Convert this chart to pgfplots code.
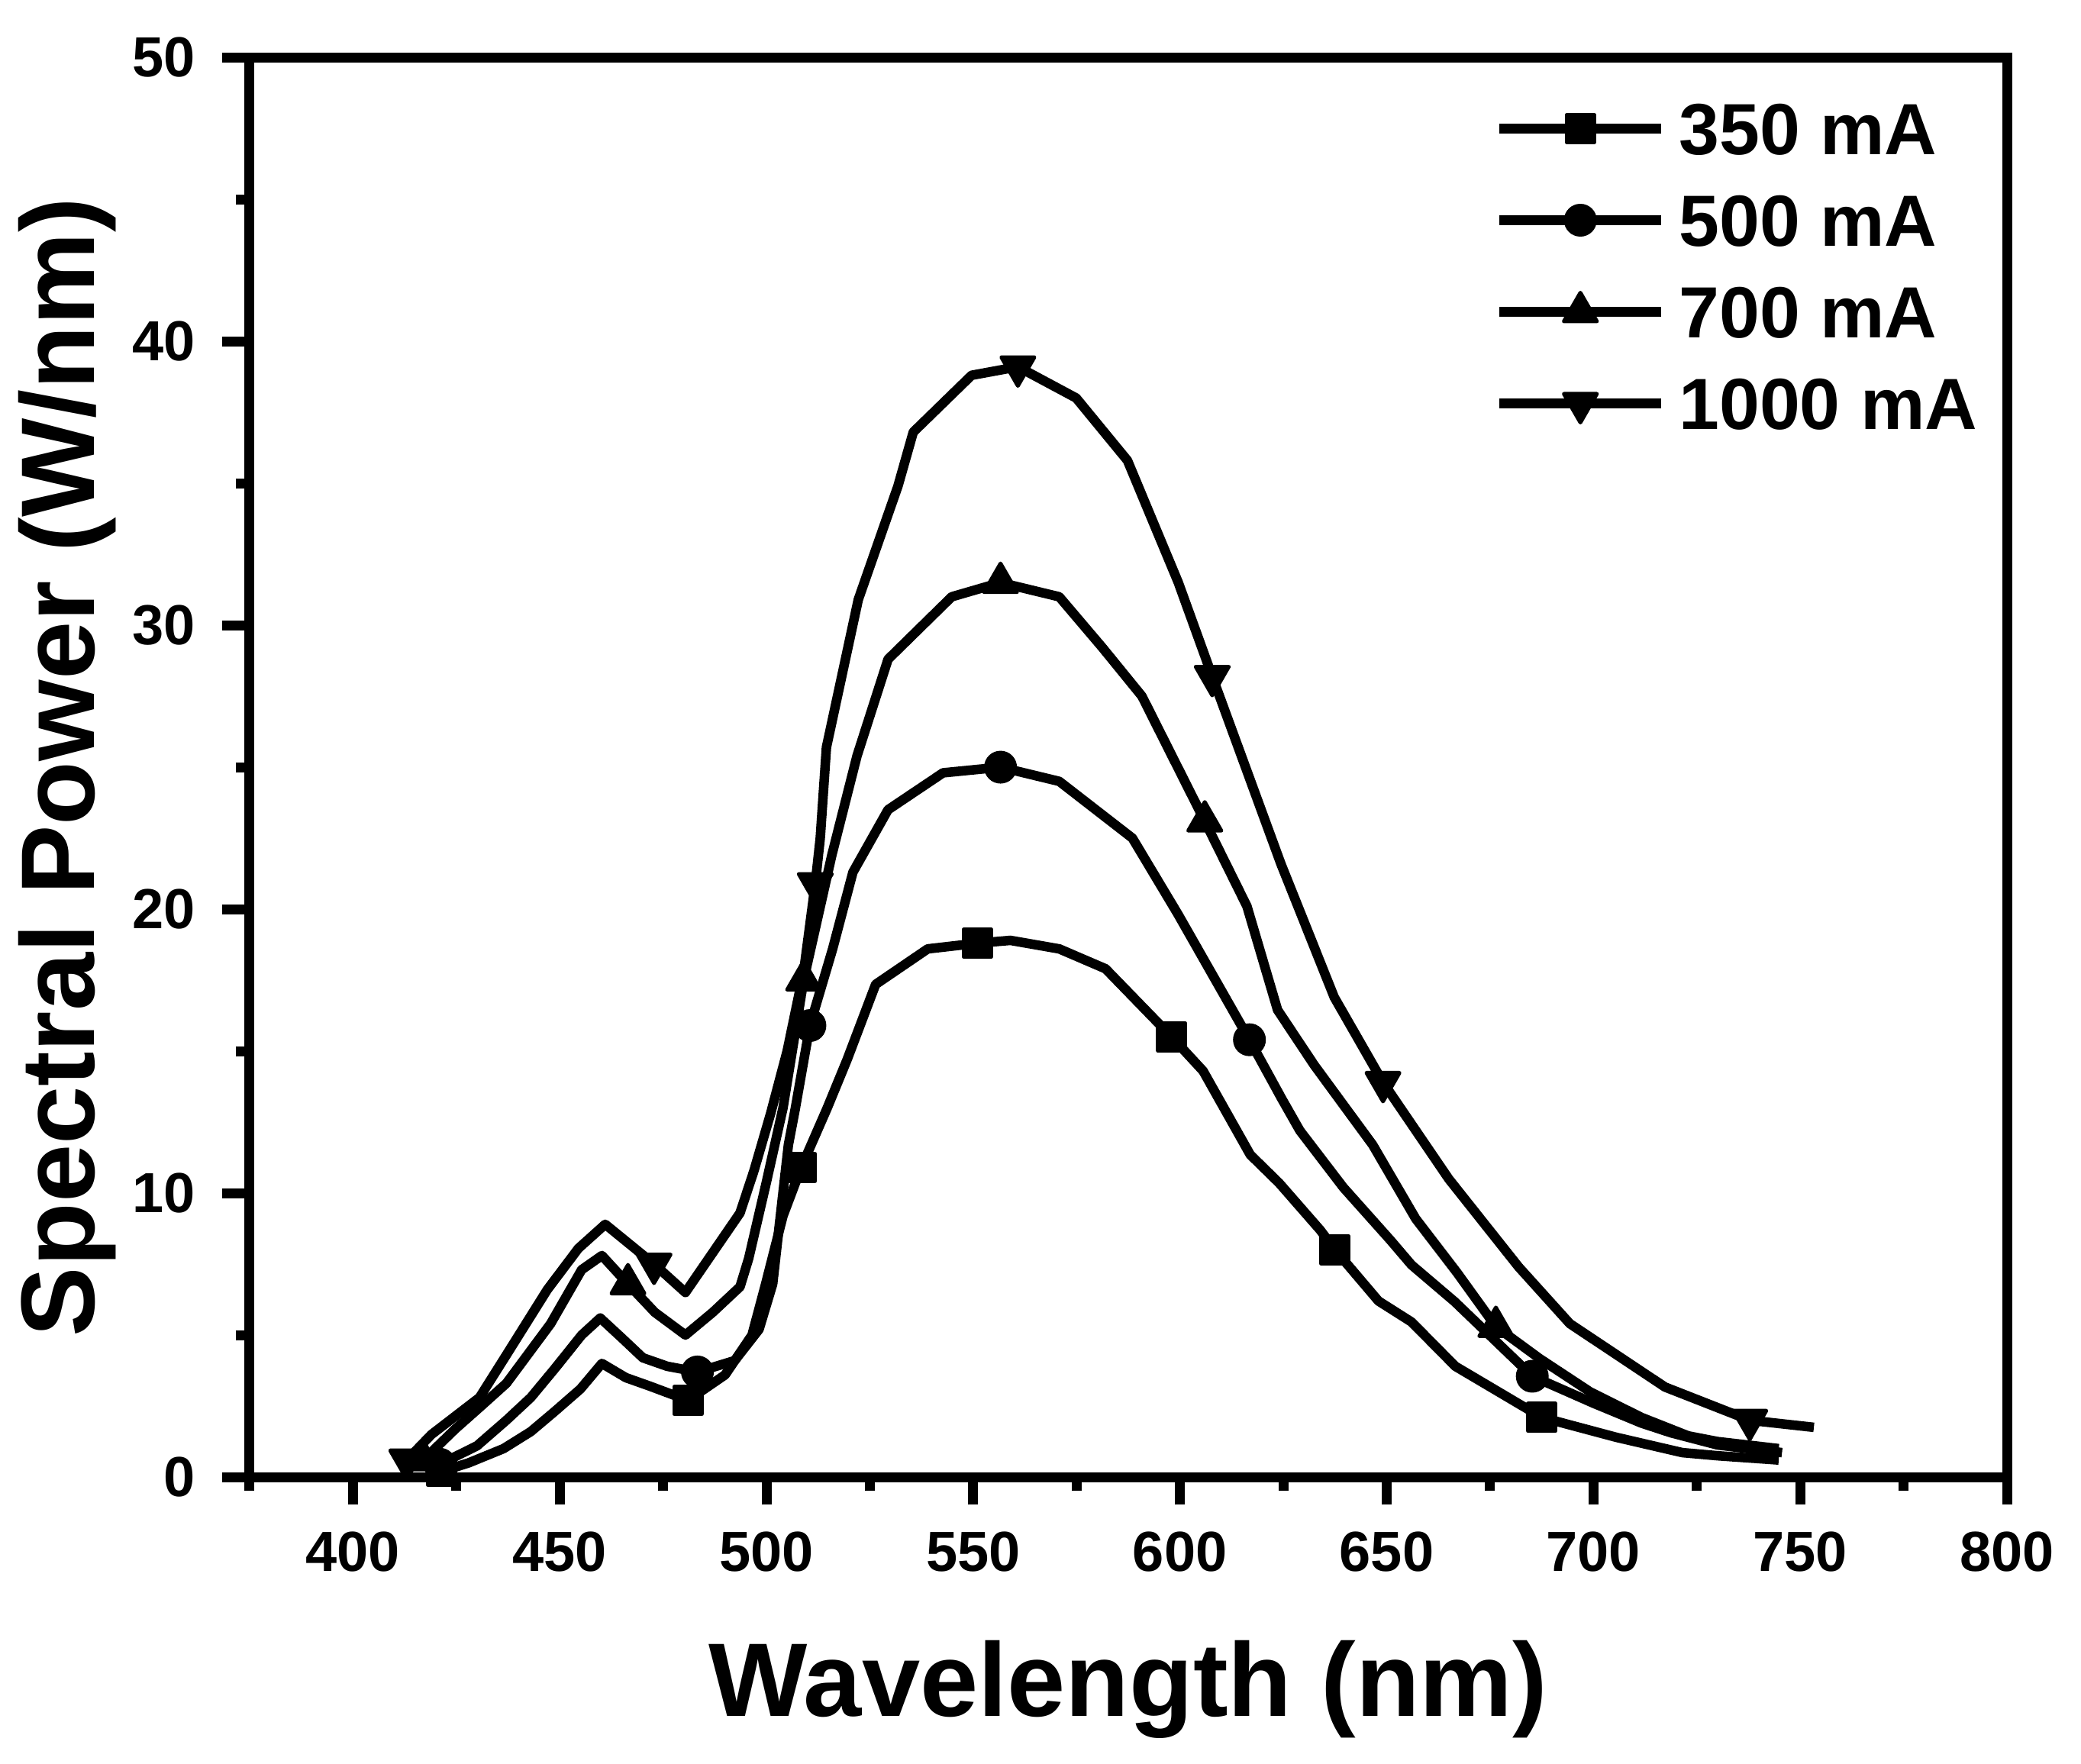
\documentclass[border=0pt]{standalone}
\usepackage{fontspec}
\setmainfont{Liberation Sans}
\usepackage{pgfplots}
\pgfplotsset{compat=1.18}
\begin{document}
\begin{tikzpicture}
\path[use as bounding box] (-32.7pt,-37.5pt) rectangle (239.9pt,193.5pt);
\begin{axis}[
  at={(0pt,0pt)}, anchor=south west,
  scale only axis, width=230.2pt, height=186pt,
  xmin=375, xmax=800, ymin=0, ymax=50,
  xtick={400,450,...,800}, ytick={0,10,...,50},
  minor xtick={375,425,...,775}, minor ytick={5,15,...,45},
  tick align=outside, tick pos=left,
  major tick length=3.6pt, minor tick length=1.8pt,
  tick style={line width=1.3pt, black},
  axis line style={line width=1.3pt},
  /pgf/number format/assume math mode=true,
  ticklabel style={font=\fontsize{7.4}{8.9}\selectfont\bfseries},
  xlabel={Wavelength (nm)}, ylabel={Spectral Power (W/nm)},
  label style={font=\fontsize{13.7}{16}\selectfont\bfseries},
  xlabel style={at={(axis description cs:0.5,-0.1683)}, anchor=base},
  ylabel style={at={(axis description cs:-0.0886,0.5)}, anchor=base},
  legend style={draw=none, fill=none, at={(rel axis cs:0.7085,0.9683)}, anchor=north west,
    inner sep=0pt, outer sep=0pt, row sep=5.1pt,
    font=\fontsize{9.5}{11}\selectfont\bfseries,
    nodes={inner sep=0pt, text height=6.9pt, text depth=0pt},
    /tikz/every odd column/.append style={column sep=1.7pt}},
  legend cell align=left,
  legend image code/.code={\draw[#1, mark indices={2}] plot coordinates {(0pt,0pt) (10.6pt,0pt) (21.2pt,0pt)};},
  cycle list={{black}},
]
\addplot[black, line width=1.25pt, line join=round, mark=square*, mark size=1.8pt, mark options={solid, fill=black, line width=0.5pt},
  mark indices={1,10,15,21,25,30,34}] coordinates {
(421.5,0.2) (428,0.5) (436.4,1.0) (443,1.6) (448.7,2.3) (455,3.1) (460.2,4.0) (466,3.5)
(471.8,3.2) (481,2.7) (490,3.6) (496.5,5.0) (499.8,6.8) (504,9.2) (508.4,10.9) (510.8,11.7)
(514.7,13.0) (519.5,14.7) (526.4,17.35) (539,18.6) (551,18.8) (559,18.9) (570.8,18.6) (582,17.9)
(598,15.5) (605.6,14.3) (617,11.35) (624,10.35) (633.9,8.7) (637.5,8.0) (648,6.2) (656,5.46)
(666.6,3.9) (687.5,2.1) (705.5,1.4) (721.5,0.86) (730,0.75) (744.8,0.6)
};
\addlegendentry{350 mA}
\addplot[black, line width=1.25pt, line join=round, mark=*, mark size=1.9pt, mark options={solid, fill=black, line width=0.5pt},
  mark indices={1,11,17,22,26,33}] coordinates {
(421,0.45) (430,1.1) (437.1,2.0) (443,2.8) (448.7,3.8) (455.3,5.0) (459.8,5.6) (465,4.9)
(470.1,4.2) (476,3.9) (483.3,3.7) (492.3,4.1) (498.2,5.2) (501.5,6.8) (505.3,11.7) (507,13.0)
(510.5,15.9) (516,18.6) (520.9,21.3) (529.4,23.5) (542.7,24.8) (556.6,25.0) (570.8,24.5) (588.5,22.5)
(599.6,19.8) (616.8,15.4) (624.7,13.3) (629,12.2) (639.5,10.2) (650.9,8.34) (656,7.47) (666.4,6.18)
(685.2,3.55) (700,2.6) (711.6,1.9) (718.7,1.56) (730,1.13) (745.6,0.86)
};
\addlegendentry{500 mA}
\addplot[black, line width=1.25pt, line join=round, mark=triangle*, mark size=2.5pt, mark options={solid, fill=black, line width=0.5pt},
  mark indices={1,8,16,21,25,32}] coordinates {
(417,0.6) (424.8,1.7) (431,2.5) (437.1,3.3) (447.8,5.4) (455.3,7.3) (460.2,7.8) (466.5,6.8)
(473,5.8) (480.4,5.0) (487,5.8) (493.6,6.7) (495.7,7.7) (500,10.4) (504,13.0) (509,17.5)
(515.8,21.9) (521.9,25.4) (529.4,28.8) (544.8,31.0) (556.6,31.5) (570.8,31.0) (581.3,29.2) (590.8,27.5)
(606,23.1) (616.2,20.1) (623.6,16.45) (632.5,14.5) (646.6,11.7) (657,9.1) (667,7.2) (676.4,5.3)
(687,4.17) (699.2,3.0) (711.6,2.1) (722.9,1.45) (730,1.25) (744.8,1.0)
};
\addlegendentry{700 mA}
\addplot[black, line width=1.25pt, line join=round, mark=triangle*, mark size=2.5pt, mark options={solid, fill=black, line width=0.5pt, rotate=180},
  mark indices={1,8,16,23,27,30,35}] coordinates {
(413,0.6) (419,1.5) (430.6,2.8) (437.1,4.3) (447,6.6) (454.5,8.05) (461,8.9) (472.8,7.5)
(480.4,6.5) (487,7.9) (493.6,9.3) (497,10.8) (501,12.8) (505,15.0) (509,17.8) (511.8,20.9)
(513,22.5) (514.5,25.7) (522.2,30.9) (531.8,34.9) (535.5,36.8) (549.6,38.8) (560.8,39.1) (574.9,38.0)
(587.3,35.8) (599.6,31.5) (607.8,28.2) (624.4,21.6) (637.3,16.9) (649.1,13.9) (665,10.5) (681.9,7.4)
(694.3,5.4) (717.3,3.17) (737.8,2.0) (753.3,1.75)
};
\addlegendentry{1000 mA}
\end{axis}
\end{tikzpicture}
\end{document}
